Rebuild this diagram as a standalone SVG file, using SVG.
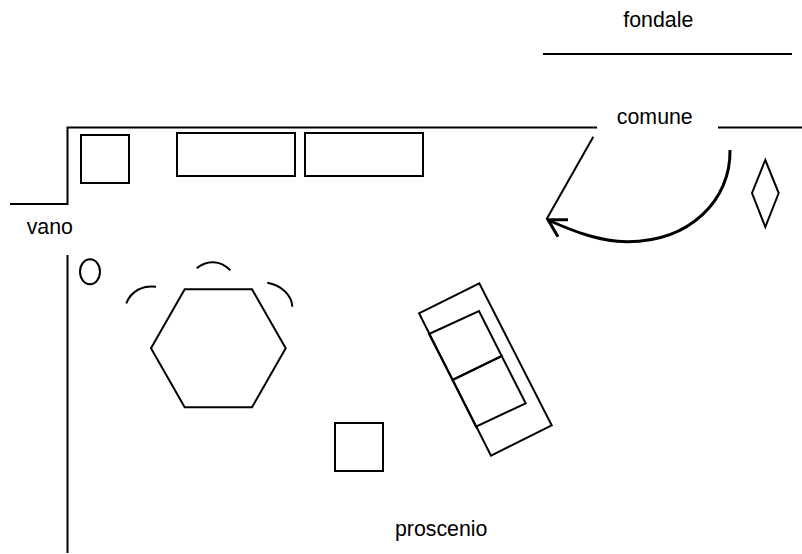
<svg xmlns="http://www.w3.org/2000/svg" width="802" height="554" viewBox="0 0 802 554">
<style>
.l{fill:none;stroke:#000;stroke-width:2}
.b{fill:none;stroke:#000;stroke-width:3}
text{font-family:"Liberation Sans",Arial,sans-serif;font-size:21.33px;fill:#000;text-anchor:middle}
</style>
<rect width="802" height="554" fill="#fff"/>
<g id="walls">
<path class="l" d="M10 204H67.5V127.5H597"/>
<path class="l" d="M718 127.5H802"/>
<path class="l" d="M67.5 255V553"/>
<path class="l" d="M543 54H792"/>
</g>
<g id="furniture">
<rect class="l" x="81" y="135" width="48" height="48"/>
<rect class="l" x="177" y="133" width="118" height="43"/>
<rect class="l" x="305" y="133" width="118" height="43"/>
<rect class="l" x="335" y="423" width="48" height="48"/>
<polygon class="l" points="752,193 765.3,160 778.7,193 765.3,227"/>
<ellipse class="l" cx="90" cy="271.7" rx="10" ry="12.5"/>
</g>
<g id="table">
<polygon class="l" points="151,348.3 184.7,289.3 252,289.3 285.7,348.3 252,407.3 184.7,407.3"/>
<path class="l" d="M126.3 303.3C131 291 143 285 156 286.7"/>
<path class="l" d="M196.7 268.3C207 260 220 260 230.3 270.3"/>
<path class="l" d="M267.3 282.7C281 285 292 295 292.3 306.7"/>
</g>
<g id="sofa">
<polygon class="l" points="419,313.3 479.3,283.3 551.7,425.3 491,455.7"/>
<polygon class="l" points="429,334 479,311 501.7,356 452.5,380"/>
<polygon class="l" points="452.5,380 501.7,356 525.7,403.3 476,426.7"/>
</g>
<g id="connectors">
<path class="l" d="M593.3 136.7L546.7 219"/>
<path class="b" d="M730 150C731 200 690 242 627 241.7C600 241.5 575 232 548 220"/>
<path class="b" d="M568 219.7H548L558 236.7"/>
</g>
<g id="labels">
<text x="658.3" y="26.7">fondale</text>
<text x="654.8" y="124.3">comune</text>
<text x="49.8" y="234">vano</text>
<text x="441.2" y="536">proscenio</text>
</g>
</svg>
